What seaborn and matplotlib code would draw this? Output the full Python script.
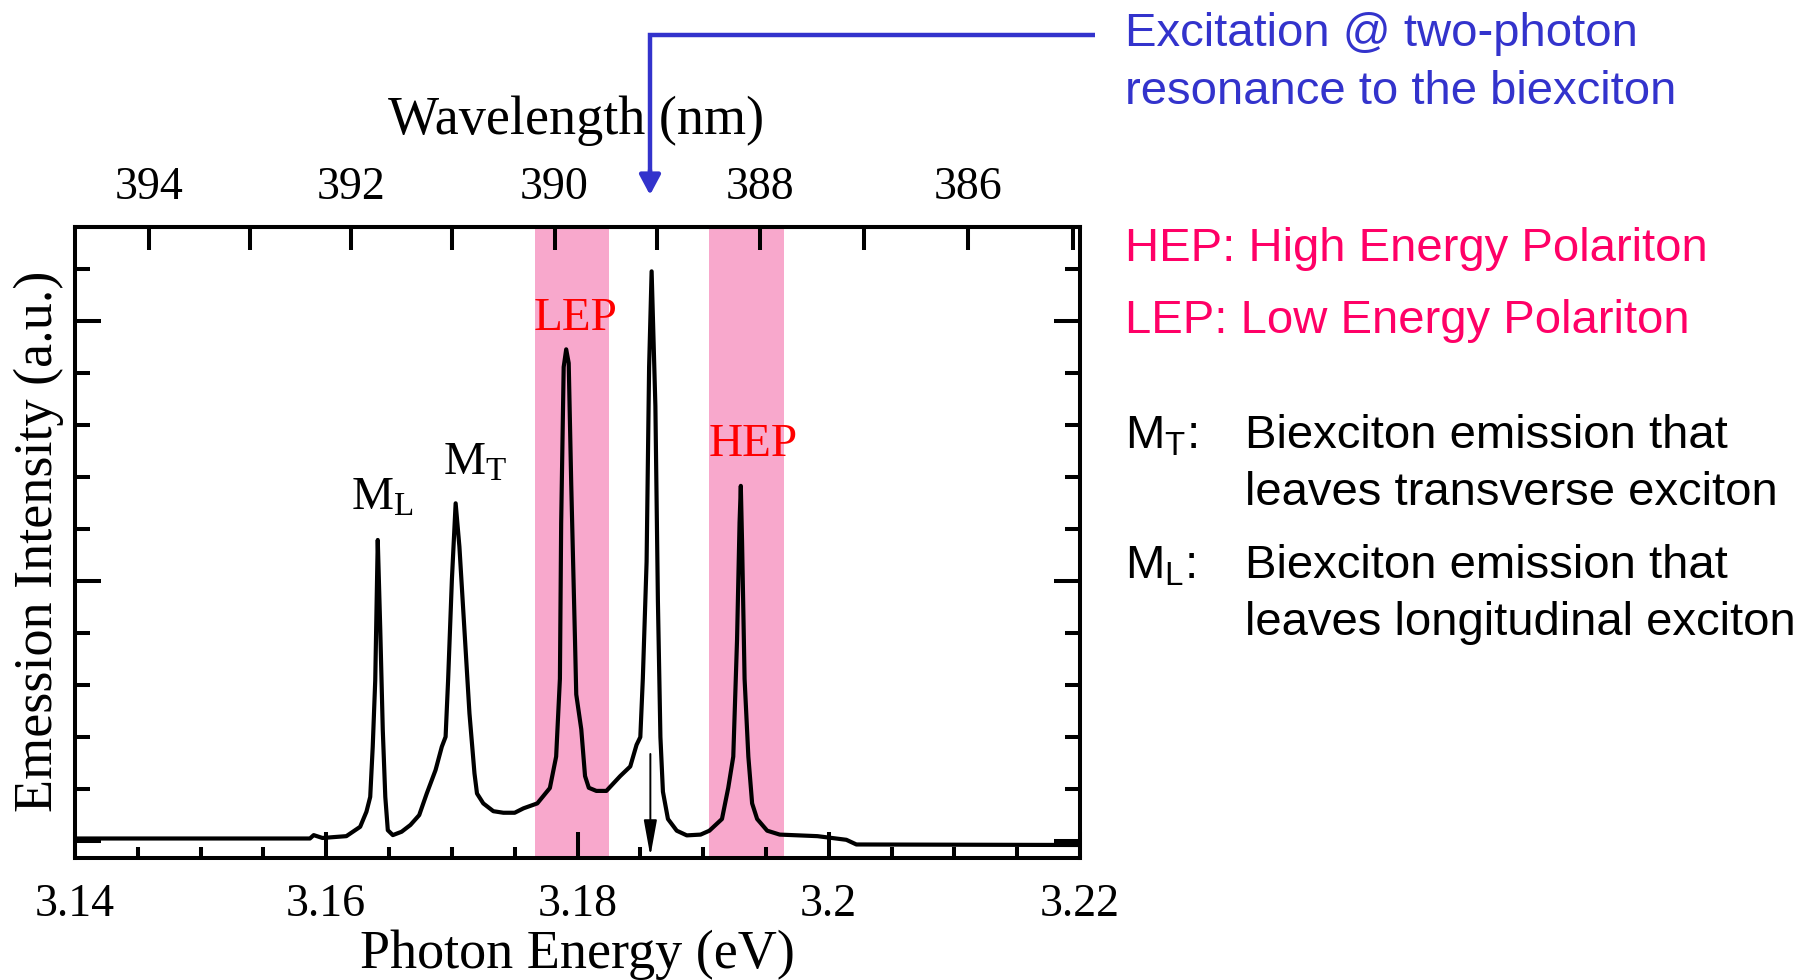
import numpy as np
import pandas as pd
import seaborn as sns
import matplotlib.pyplot as plt
from matplotlib.lines import Line2D
from matplotlib.ticker import FixedLocator, MultipleLocator

# spectrum (photon energy in eV, intensity in a.u.)
energy = [3.1400, 3.1587, 3.1590, 3.1597, 3.1605, 3.1616, 3.1627, 3.1632, 3.1635,
          3.1637, 3.1639, 3.1641, 3.1643, 3.1645, 3.1647, 3.1649, 3.1653, 3.1660,
          3.1667, 3.1674, 3.1680, 3.1687, 3.1692, 3.1695, 3.1697, 3.1700, 3.1703,
          3.1706, 3.1710, 3.1714, 3.1718, 3.1720, 3.1725, 3.1733, 3.1741, 3.1750,
          3.1757, 3.1768, 3.1778, 3.1783, 3.1786, 3.1787, 3.1789, 3.1791, 3.1793,
          3.1795, 3.1798, 3.1799, 3.1803, 3.1806, 3.1809, 3.1815, 3.1823, 3.1834,
          3.1842, 3.1847, 3.1850, 3.1852, 3.1855, 3.1857, 3.1859, 3.1862, 3.1864,
          3.1866, 3.1868, 3.1872, 3.1879, 3.1887, 3.1898, 3.1905, 3.1915, 3.1920,
          3.1924, 3.1927, 3.1929, 3.1930, 3.1931, 3.1933, 3.1936, 3.1939, 3.1943,
          3.1951, 3.1961, 3.1991, 3.2014, 3.2022, 3.2200]
intensity = [0.010, 0.010, 0.023, 0.012, 0.015, 0.019, 0.055, 0.113, 0.170,
             0.363, 0.619, 1.158, 0.812, 0.427, 0.170, 0.042, 0.023, 0.036,
             0.062, 0.100, 0.183, 0.273, 0.363, 0.401, 0.619, 1.004, 1.299,
             1.132, 0.812, 0.491, 0.260, 0.183, 0.145, 0.115, 0.109, 0.109,
             0.126, 0.145, 0.204, 0.325, 0.624, 1.224, 1.823, 1.891, 1.838,
             1.374, 0.774, 0.564, 0.430, 0.250, 0.205, 0.193, 0.193, 0.250,
             0.287, 0.370, 0.400, 0.624, 1.074, 1.823, 2.191, 1.673, 0.924,
             0.400, 0.190, 0.085, 0.040, 0.022, 0.025, 0.040, 0.085, 0.205,
             0.325, 0.774, 1.224, 1.366, 1.149, 0.624, 0.325, 0.145, 0.085,
             0.040, 0.025, 0.019, 0.005, -0.013, -0.015]

lep_band = (3.1766, 3.1825)
hep_band = (3.1905, 3.1964)
e_exc = 3.1858

x_major = [3.14, 3.16, 3.18, 3.20, 3.22]
x_labels = ['3.14', '3.16', '3.18', '3.2', '3.22']
wl_major = [394, 392, 390, 388, 386]
wl_minor = [393, 391, 389, 387, 385]

peak_labels = ['$\\mathrm{M_L}$', '$\\mathrm{M_T}$', 'LEP', 'HEP']
peak_label_pos = [(3.1620, 1.273), (3.1693, 1.41), (3.1765, 1.966), (3.1904, 1.481)]
peak_label_col = ['black', 'black', '#FF0000', '#FF0000']

blue = '#3333CC'
pink = '#FF0066'

sns.set_theme(style='ticks')
plt.rcParams['font.family'] = ['Liberation Serif', 'DejaVu Serif']
plt.rcParams['mathtext.fontset'] = 'custom'
plt.rcParams['mathtext.rm'] = 'Liberation Serif'
plt.rcParams['mathtext.sf'] = 'Liberation Sans'
plt.rcParams['text.color'] = 'black'
plt.rcParams['xtick.color'] = 'black'
plt.rcParams['ytick.color'] = 'black'
plt.rcParams['xtick.labelcolor'] = 'black'

W, H = 1814, 980
fig = plt.figure(figsize=(W / 100, H / 100), dpi=100)
ax = fig.add_axes([75 / W, 1 - 858 / H, 1005 / W, 631 / H])

df = pd.DataFrame({'E': energy, 'I': intensity})
for b in (lep_band, hep_band):
    ax.axvspan(*b, color='#F8A8CC', lw=0, zorder=0)
sns.lineplot(data=df, x='E', y='I', color='black', lw=3.0, estimator=None,
             sort=False, ax=ax, zorder=3)

ax.set_xlim(3.14, 3.22)
ax.set_ylim(-0.065, 2.3615)
ax.set_xlabel('')
ax.set_ylabel('')

for s in ax.spines.values():
    s.set_linewidth(2.9)
    s.set_color('black')

ax.xaxis.set_major_locator(FixedLocator(x_major))
ax.set_xticklabels(x_labels)
ax.xaxis.set_minor_locator(MultipleLocator(0.005))
ax.yaxis.set_major_locator(MultipleLocator(1))
ax.yaxis.set_minor_locator(MultipleLocator(0.2))
ax.tick_params(which='both', direction='in', top=False, right=True,
               width=2.9, color='black', labelleft=False)
ax.tick_params(axis='x', which='major', length=19, labelsize=33, pad=18,
               labelcolor='black')
ax.tick_params(axis='x', which='minor', length=8)
ax.tick_params(axis='y', which='major', length=19)
ax.tick_params(axis='y', which='minor', length=11)

# wavelength axis on top (air wavelength)
def conv(v):
    v = np.asarray(v, dtype=float)
    with np.errstate(divide='ignore'):
        return 1239.84 / (v * 1.000283)

secax = ax.secondary_xaxis('top', functions=(conv, conv))
secax.xaxis.set_major_locator(FixedLocator(wl_major))
secax.xaxis.set_minor_locator(FixedLocator(wl_minor))
secax.tick_params(which='both', direction='in', length=16.5, width=2.9,
                  labelsize=33, pad=13, color='black', labelcolor='black')
secax.spines['top'].set_linewidth(2.9)
secax.spines['top'].set_color('black')

for txt, (xx, yy), c in zip(peak_labels, peak_label_pos, peak_label_col):
    ax.text(xx, yy, txt, fontsize=34, color=c, ha='left', va='baseline', zorder=4)

# excitation energy marker
ax.annotate('', xy=(e_exc, -0.058), xytext=(e_exc, 0.335),
            arrowprops=dict(arrowstyle='-|>,head_length=1.1,head_width=0.2',
                            color='black', lw=1.4, mutation_scale=20,
                            shrinkA=0, shrinkB=0), zorder=4)

# axis titles
fig.text(577 / W, 1 - 968 / H, 'Photon Energy (eV)', fontsize=39,
         ha='center', va='baseline', color='black')
fig.text(576 / W, 1 - 134 / H, 'Wavelength (nm)', fontsize=39,
         ha='center', va='baseline', color='black')
fig.text(52 / W, 1 - 541 / H, 'Emession Intensity (a.u.)', fontsize=39,
         rotation=90, rotation_mode='anchor', ha='center', va='baseline',
         color='black')

# blue excitation pointer: elbow line plus arrow head
fig.add_artist(Line2D([1095 / W, 650 / W, 650 / W],
                      [1 - 35 / H, 1 - 35 / H, 1 - 180 / H],
                      transform=fig.transFigure, color=blue, lw=3.2,
                      solid_joinstyle='miter', solid_capstyle='butt'))
ax.annotate('', xy=(650, H - 195), xycoords='figure pixels',
            xytext=(650, H - 170), textcoords='figure pixels',
            arrowprops=dict(arrowstyle='-|>,head_length=0.6,head_width=0.32',
                            color=blue, lw=3.2, mutation_scale=20,
                            shrinkA=0, shrinkB=0), annotation_clip=False)

# side notes
sans = 'Liberation Sans'
notes = [
    (1125, 46, 'Excitation @ two-photon', blue),
    (1125, 104, 'resonance to the biexciton', blue),
    (1125, 261, 'HEP: High Energy Polariton', pink),
    (1125, 333, 'LEP: Low Energy Polariton', pink),
    (1125, 448, '$\\mathsf{M_T}$:', 'black'),
    (1245, 448, 'Biexciton emission that', 'black'),
    (1245, 505, 'leaves transverse exciton', 'black'),
    (1125, 578, '$\\mathsf{M_L}$:', 'black'),
    (1245, 578, 'Biexciton emission that', 'black'),
    (1245, 635, 'leaves longitudinal exciton', 'black'),
]
for xx, yy, s, c in notes:
    fig.text(xx / W, 1 - yy / H, s, fontsize=34, family=sans, color=c,
             ha='left', va='baseline')

fig.savefig('out.png', dpi=100, facecolor='white')
